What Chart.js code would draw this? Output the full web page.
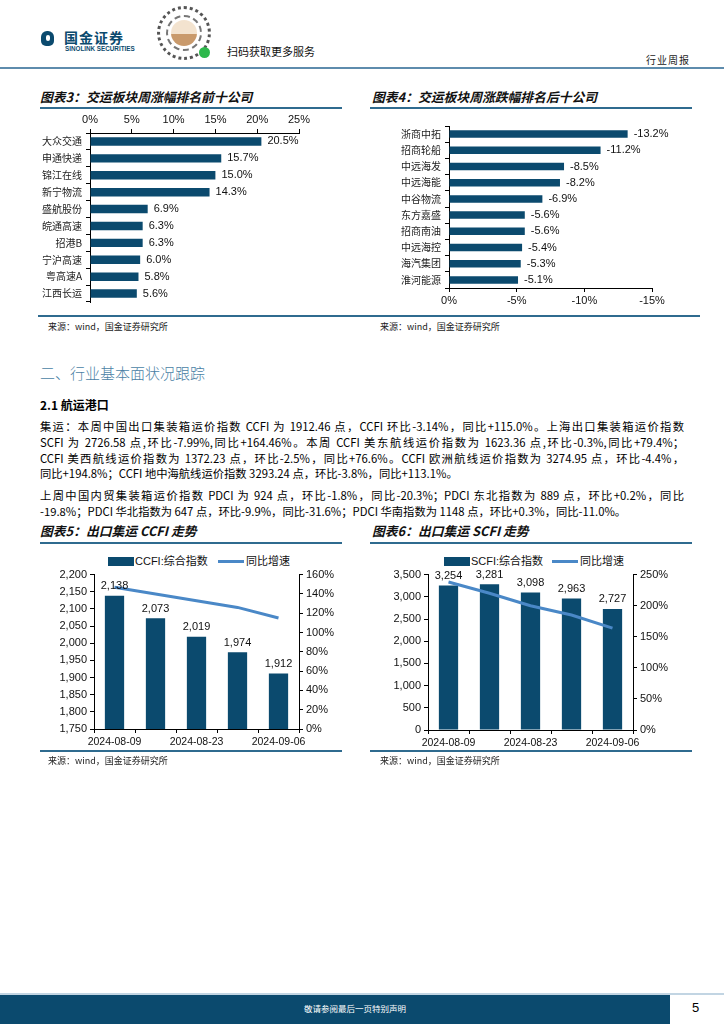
<!DOCTYPE html>
<html>
<head>
<meta charset="utf-8">
<script src="https://cdn.jsdelivr.net/npm/chart.js@4.4.1/dist/chart.umd.min.js"></script>
<style>
  body { margin:0; width:724px; height:1024px; position:relative; background:#fff; overflow:hidden;
         font-family:"Noto Sans CJK SC", sans-serif; color:#000; }
  .abs { position:absolute; }
  .title { position:absolute; font-weight:bold; font-style:italic; font-size:12.8px; color:#111; line-height:16px; white-space:nowrap; }
  .rule { position:absolute; height:1.5px; background:#2f6b8f; }
  .src { position:absolute; font-size:9px; color:#222; line-height:12px; white-space:nowrap; }
  .para div { white-space:nowrap; text-align:justify; text-align-last:justify; width:644px; height:15.8px; line-height:15.8px; font-size:11.3px; }
  .para div.last { text-align-last:left; }
  .leg { position:absolute; font-size:11px; line-height:14px; white-space:nowrap; font-family:"Liberation Sans","Noto Sans CJK SC",sans-serif; color:#111; }
  canvas { position:absolute; }
</style>
</head>
<body>

<!-- header -->
<div class="abs" style="left:41px;top:31px;width:13px;height:15px;background:#0b4a6e;border-radius:6px 6px 5px 5px;"></div>
<div class="abs" style="left:46px;top:35px;width:4px;height:6px;background:#fff;border-radius:2px;"></div>
<div class="abs" style="left:64px;top:28px;font-size:14px;font-weight:bold;color:#0b4a6e;line-height:18px;letter-spacing:1px;">国金证券</div>
<div class="abs" style="left:65px;top:45px;font-size:6.3px;font-weight:bold;color:#0b4a6e;line-height:7px;font-family:'Liberation Sans',sans-serif;">SINOLINK SECURITIES</div>
<div class="abs" style="left:157px;top:6px;width:54px;height:54px;border-radius:50%;border:3px dotted #555;box-sizing:border-box;"></div>
<div class="abs" style="left:166px;top:15px;width:36px;height:36px;border-radius:50%;border:2px dashed #777;box-sizing:border-box;"></div>
<div class="abs" style="left:171px;top:20px;width:26px;height:26px;border-radius:50%;background:linear-gradient(#f3e3cf 55%,#c99a6c 55%);"></div>
<div class="abs" style="left:199px;top:47px;width:11px;height:11px;border-radius:50%;background:#2db84c;"></div>
<div class="abs" style="left:227px;top:44px;font-size:11px;line-height:14px;color:#111;">扫码获取更多服务</div>
<div class="abs" style="left:646px;top:54px;font-size:10px;line-height:12px;color:#222;letter-spacing:1px;">行业周报</div>
<div class="abs" style="left:0;top:67px;width:724px;height:2px;background:#5e8cad;"></div>

<!-- top charts -->
<div class="title" style="left:40px;top:89px;">图表3：交运板块周涨幅排名前十公司</div>
<div class="rule" style="left:40px;top:107px;width:302px;"></div>
<div class="title" style="left:372px;top:89px;">图表4：交运板块周涨跌幅排名后十公司</div>
<div class="rule" style="left:370px;top:107px;width:322px;"></div>
<canvas id="c3" width="300" height="200" style="left:40px;top:112px;width:300px;height:200px;"></canvas>
<canvas id="c4" width="320" height="192" style="left:370px;top:116px;width:320px;height:192px;"></canvas>
<div class="rule" style="left:38px;top:315px;width:662px;"></div>
<div class="src" style="left:48px;top:321px;">来源：wind，国金证券研究所</div>
<div class="src" style="left:380px;top:321px;">来源：wind，国金证券研究所</div>

<!-- text -->
<div class="abs" style="left:40px;top:362px;font-size:15px;line-height:22px;color:#4a7fa5;font-weight:300;">二、行业基本面状况跟踪</div>
<div class="abs" style="left:40px;top:397px;font-size:12px;line-height:16px;font-weight:bold;">2.1 航运港口</div>
<div class="abs para" style="left:40px;top:419px;">
  <div>集运：本周中国出口集装箱运价指数 CCFI 为 1912.46 点，CCFI 环比-3.14%，同比+115.0%。上海出口集装箱运价指数</div>
  <div>SCFI 为 2726.58 点,环比-7.99%,同比+164.46%。本周 CCFI 美东航线运价指数为 1623.36 点,环比-0.3%,同比+79.4%；</div>
  <div>CCFI 美西航线运价指数为 1372.23 点，环比-2.5%，同比+76.6%。CCFI 欧洲航线运价指数为 3274.95 点，环比-4.4%，</div>
  <div class="last">同比+194.8%；CCFI 地中海航线运价指数 3293.24 点，环比-3.8%，同比+113.1%。</div>
</div>
<div class="abs para" style="left:40px;top:488px;">
  <div>上周中国内贸集装箱运价指数 PDCI 为 924 点，环比-1.8%，同比-20.3%；PDCI 东北指数为 889 点，环比+0.2%，同比</div>
  <div class="last">-19.8%；PDCI 华北指数为 647 点，环比-9.9%，同比-31.6%；PDCI 华南指数为 1148 点，环比+0.3%，同比-11.0%。</div>
</div>

<!-- bottom charts -->
<div class="title" style="left:40px;top:523px;">图表5：出口集运 CCFI 走势</div>
<div class="rule" style="left:40px;top:542px;width:302px;"></div>
<div class="title" style="left:372px;top:523px;">图表6：出口集运 SCFI 走势</div>
<div class="rule" style="left:370px;top:542px;width:322px;"></div>

<div class="abs" style="left:108px;top:557px;width:26px;height:9px;background:#0b4a6e;"></div>
<div class="leg" style="left:135px;top:554px;">CCFI:综合指数</div>
<div class="abs" style="left:218px;top:560px;width:26px;height:3px;background:#4a88c7;"></div>
<div class="leg" style="left:246px;top:554px;">同比增速</div>
<div class="abs" style="left:444px;top:557px;width:26px;height:9px;background:#0b4a6e;"></div>
<div class="leg" style="left:471px;top:554px;">SCFI:综合指数</div>
<div class="abs" style="left:552px;top:560px;width:26px;height:3px;background:#4a88c7;"></div>
<div class="leg" style="left:580px;top:554px;">同比增速</div>

<canvas id="c5" width="300" height="185" style="left:40px;top:565px;width:300px;height:185px;"></canvas>
<canvas id="c6" width="320" height="186" style="left:370px;top:565px;width:320px;height:186px;"></canvas>
<div class="rule" style="left:40px;top:750px;width:302px;"></div>
<div class="rule" style="left:370px;top:750px;width:322px;"></div>
<div class="src" style="left:48px;top:755px;">来源：wind，国金证券研究所</div>
<div class="src" style="left:380px;top:755px;">来源：wind，国金证券研究所</div>

<!-- footer -->
<div class="abs" style="left:0;top:993px;width:724px;height:2px;background:#c2d5e3;"></div>
<div class="abs" style="left:0;top:995px;width:670px;height:29px;background:#0b4a6e;"></div>
<div class="abs" style="left:0;top:1002px;width:710px;text-align:center;font-size:8.5px;line-height:12px;color:#fff;">敬请参阅最后一页特别声明</div>
<div class="abs" style="left:692px;top:1000px;font-size:13px;line-height:16px;font-family:'Liberation Sans',sans-serif;">5</div>

<script>
// ---- data ----
const topNames = ["大众交通", "申通快递", "锦江在线", "新宁物流", "盛航股份", "皖通高速", "招港B", "宁沪高速", "粤高速A", "江西长运"];
const topGains = [20.5, 15.7, 15.0, 14.3, 6.9, 6.3, 6.3, 6.0, 5.8, 5.6];
const bottomNames = ["浙商中拓", "招商轮船", "中远海发", "中远海能", "中谷物流", "东方嘉盛", "招商南油", "中远海控", "海汽集团", "淮河能源"];
const bottomDrops = [-13.2, -11.2, -8.5, -8.2, -6.9, -5.6, -5.6, -5.4, -5.3, -5.1];
const weeks = ["2024-08-09", "2024-08-16", "2024-08-23", "2024-08-30", "2024-09-06"];
const ccfiIndex = [2138, 2073, 2019, 1974, 1912];
const ccfiYoy = [147, 140, 133, 126, 115];
const scfiIndex = [3254, 3281, 3098, 2963, 2727];
const scfiYoy = [238, 220, 200, 185, 164];

const BAR = "#0b4a6e";
const LINE = "#4a88c7";
const numFont = { family: '"Liberation Sans", Arial, sans-serif', size: 11 };
const cjkFont = { family: '"Noto Sans CJK SC", sans-serif', size: 10 };

// value labels next to / above the bars
function barLabels(fmt, where, dsIndex) {
  return {
    id: "barLabels",
    afterDatasetsDraw(chart) {
      const ctx = chart.ctx;
      const meta = chart.getDatasetMeta(dsIndex);
      const vals = chart.data.datasets[dsIndex].data;
      ctx.save();
      ctx.fillStyle = "#111";
      ctx.font = '11px "Liberation Sans", Arial, sans-serif';
      meta.data.forEach((bar, i) => {
        if (where === "right") {
          ctx.textAlign = "left";
          ctx.textBaseline = "middle";
          ctx.fillText(fmt(vals[i]), bar.x + 6, bar.y);
        } else {
          ctx.textAlign = "center";
          ctx.textBaseline = "bottom";
          ctx.fillText(fmt(vals[i]), bar.x, bar.y - 4);
        }
      });
      ctx.restore();
    }
  };
}

const axisGrid = { drawOnChartArea: false, tickLength: 4, color: "#000" };
const axisBorder = { color: "#000" };

// ===============================
// 图表3
// ===============================
new Chart(document.getElementById("c3"), {
  type: "bar",
  data: {
    labels: topNames,
    datasets: [{ data: topGains, backgroundColor: BAR, barPercentage: 0.5, categoryPercentage: 1 }]
  },
  options: {
    indexAxis: "y",
    responsive: false,
    animation: false,
    layout: { padding: { right: 41, bottom: 1 } },
    plugins: { legend: { display: false }, tooltip: { enabled: false } },
    scales: {
      x: {
        position: "top", min: 0, max: 25,
        ticks: { stepSize: 5, callback: v => v + "%", font: numFont, color: "#111", padding: 2 },
        grid: axisGrid, border: axisBorder,
        afterFit: s => { s.height = 21; }
      },
      y: {
        ticks: { font: cjkFont, color: "#222", padding: 4 },
        grid: axisGrid, border: axisBorder,
        afterFit: s => { s.width = 50; }
      }
    }
  },
  plugins: [barLabels(v => v.toFixed(1) + "%", "right", 0)]
});

// ===============================
// 图表4
// ===============================
new Chart(document.getElementById("c4"), {
  type: "bar",
  data: {
    labels: bottomNames,
    datasets: [{ data: bottomDrops, backgroundColor: BAR, barPercentage: 0.46, categoryPercentage: 1 }]
  },
  options: {
    indexAxis: "y",
    responsive: false,
    animation: false,
    layout: { padding: { top: 6, right: 38 } },
    plugins: { legend: { display: false }, tooltip: { enabled: false } },
    scales: {
      x: {
        min: -15, max: 0, reverse: true,
        ticks: { stepSize: 5, callback: v => v + "%", font: numFont, color: "#111", padding: 2 },
        grid: axisGrid, border: axisBorder,
        afterFit: s => { s.height = 20; }
      },
      y: {
        ticks: { font: cjkFont, color: "#222", padding: 4 },
        grid: axisGrid, border: axisBorder,
        afterFit: s => { s.width = 79; }
      }
    }
  },
  plugins: [barLabels(v => v.toFixed(1) + "%", "right", 0)]
});

// ===============================
// 图表5 / 图表6 : index bars + yoy line
// ===============================
function comboChart(id, index, yoy, yMin, yMax, yStep, rMax, rStep, leftW, rightW) {
  new Chart(document.getElementById(id), {
    data: {
      labels: weeks,
      datasets: [
        { type: "line", data: yoy, yAxisID: "y1", borderColor: LINE, borderWidth: 3,
          pointRadius: 0, tension: 0, order: 0 },
        { type: "bar", data: index, yAxisID: "y", backgroundColor: BAR,
          barPercentage: 0.47, categoryPercentage: 1, order: 1 }
      ]
    },
    options: {
      responsive: false,
      animation: false,
      layout: { padding: { top: 9 } },
      plugins: { legend: { display: false }, tooltip: { enabled: false } },
      scales: {
        x: {
          ticks: { autoSkip: false, maxRotation: 0, font: { family: numFont.family, size: 10.5 }, color: "#111",
                   padding: 3, callback: (v, i) => (i % 2 === 0 ? weeks[i] : "") },
          grid: axisGrid, border: axisBorder,
          afterFit: s => { s.height = 21; }
        },
        y: {
          position: "left", min: yMin, max: yMax,
          ticks: { stepSize: yStep, font: numFont, color: "#111", padding: 3,
                   callback: v => v.toLocaleString("en-US") },
          grid: axisGrid, border: axisBorder,
          afterFit: s => { s.width = leftW; }
        },
        y1: {
          position: "right", min: 0, max: rMax,
          ticks: { stepSize: rStep, font: numFont, color: "#111", padding: 3, callback: v => v + "%" },
          grid: axisGrid, border: axisBorder,
          afterFit: s => { s.width = rightW; }
        }
      }
    },
    plugins: [barLabels(v => v.toLocaleString("en-US"), "top", 1)]
  });
}

comboChart("c5", ccfiIndex, ccfiYoy, 1750, 2200, 50, 160, 20, 54, 41);
comboChart("c6", scfiIndex, scfiYoy, 0, 3500, 500, 250, 50, 58, 57);
</script>
</body>
</html>
